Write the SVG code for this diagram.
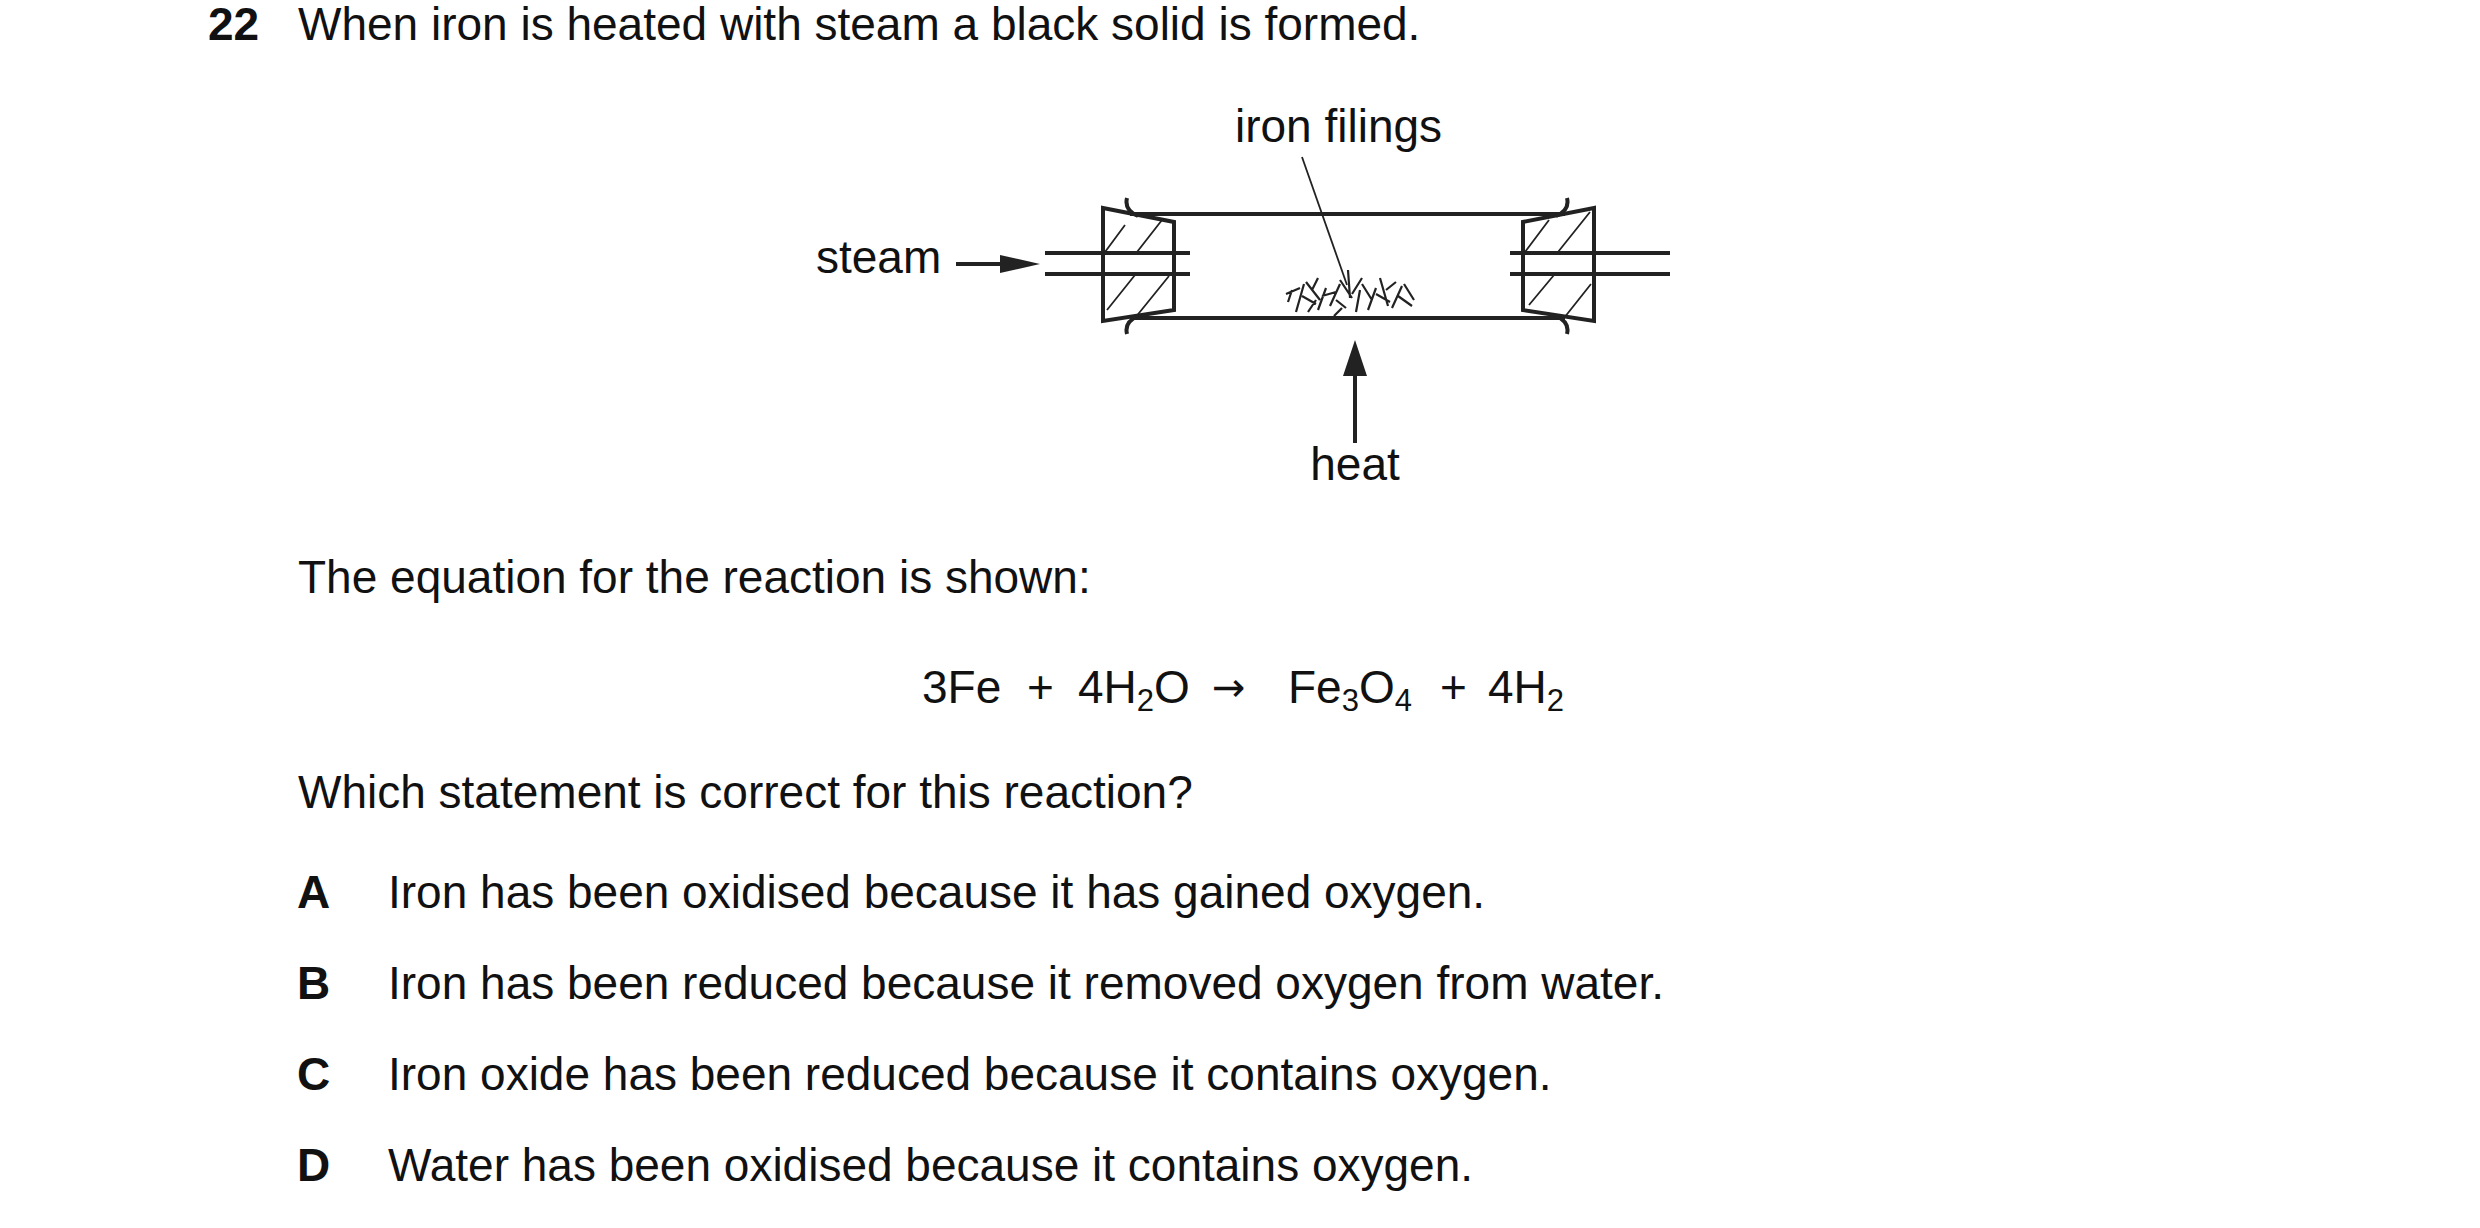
<svg xmlns="http://www.w3.org/2000/svg" width="2480" height="1228" viewBox="0 0 2480 1228">
<style>
text{font-family:"Liberation Sans",Arial,sans-serif;font-size:46px;fill:#111}
.b{font-weight:bold}
.sub{font-size:31px}
.arr{font-family:"DejaVu Sans",sans-serif;font-size:40px}
.ln{stroke:#222;stroke-width:4;fill:none}
.th{stroke:#222;stroke-width:1.8;fill:none}
.f{stroke:#222;stroke-width:2.2;fill:none}
</style>
<rect width="2480" height="1228" fill="#fff"/>
<text x="208" y="40" class="b">22</text>
<text x="298" y="40">When iron is heated with steam a black solid is formed.</text>
<g id="apparatus" transform="translate(-10,0)">
<line class="ln" x1="1140" y1="214" x2="1575" y2="214"/>
<line class="ln" x1="1140" y1="318" x2="1575" y2="318"/>
<path class="ln" d="M1113,208 L1184,222 L1184,310 L1113,321 Z"/>
<path class="ln" d="M1604,208 L1533,222 L1533,310 L1604,321 Z"/>
<path class="th" d="M1115,252 L1135,225 M1147,252 L1172,220 M1117,310 L1145,275 M1145,318 L1179,276"/>
<path class="th" d="M1535,252 L1559,220 M1568,252 L1600,212 M1539,305 L1564,275 M1574,318 L1601,284"/>
<path class="ln" d="M1137,198 Q1134,210 1148,216 M1137,334 Q1134,322 1148,316"/>
<path class="ln" d="M1577,198 Q1580,210 1566,216 M1577,334 Q1580,322 1566,316"/>
<line class="ln" x1="1055" y1="253" x2="1200" y2="253"/>
<line class="ln" x1="1055" y1="274" x2="1200" y2="274"/>
<line class="ln" x1="1520" y1="253" x2="1680" y2="253"/>
<line class="ln" x1="1520" y1="274" x2="1680" y2="274"/>
<g id="filings">
<path class="f" d="M1298,302 L1302,290 M1296,294 L1310,288 M1306,312 L1314,284 M1312,296 L1326,304 M1316,282 L1330,300 M1322,290 L1328,278 M1328,310 L1336,288 M1332,296 L1346,292 M1340,306 L1350,284 M1346,300 L1356,308 M1350,280 L1362,298 M1358,270 L1360,298 M1362,294 L1372,278 M1366,312 L1370,290 M1372,284 L1382,300 M1378,310 L1386,288 M1386,294 L1400,302 M1390,278 L1398,306 M1396,290 L1406,282 M1402,308 L1412,286 M1408,296 L1422,306 M1414,284 L1424,300 M1318,312 L1326,300 M1352,308 L1344,316"/>
</g>
<line class="th" x1="1312" y1="157" x2="1357" y2="285"/>
<text x="1245" y="142">iron filings</text>
<line class="ln" x1="966" y1="264" x2="1015" y2="264"/>
<path d="M1010,255 L1050,264 L1010,273 Z" fill="#222"/>
<text x="826" y="273">steam</text>
<line class="ln" x1="1365" y1="443" x2="1365" y2="370"/>
<path d="M1353,376 L1365,340 L1377,376 Z" fill="#222"/>
<text x="1365" y="480" text-anchor="middle">heat</text>
</g>
<text x="298" y="593">The equation for the reaction is shown:</text>
<g id="equation" transform="translate(-10,0)">
<text x="932" y="703">3Fe</text>
<text x="1037" y="703">+</text>
<text x="1088" y="703">4H<tspan class="sub" dy="8">2</tspan><tspan dy="-8">O</tspan></text>
<text x="1222" y="701" class="arr">→</text>
<text x="1298" y="703">Fe<tspan class="sub" dy="8">3</tspan><tspan dy="-8">O</tspan><tspan class="sub" dy="8">4</tspan></text>
<text x="1450" y="703">+</text>
<text x="1498" y="703">4H<tspan class="sub" dy="8">2</tspan></text>
</g>
<text x="298" y="808">Which statement is correct for this reaction?</text>
<text x="297" y="908" class="b">A</text><text x="388" y="908">Iron has been oxidised because it has gained oxygen.</text>
<text x="297" y="999" class="b">B</text><text x="388" y="999">Iron has been reduced because it removed oxygen from water.</text>
<text x="297" y="1090" class="b">C</text><text x="388" y="1090">Iron oxide has been reduced because it contains oxygen.</text>
<text x="297" y="1181" class="b">D</text><text x="388" y="1181">Water has been oxidised because it contains oxygen.</text>
</svg>
